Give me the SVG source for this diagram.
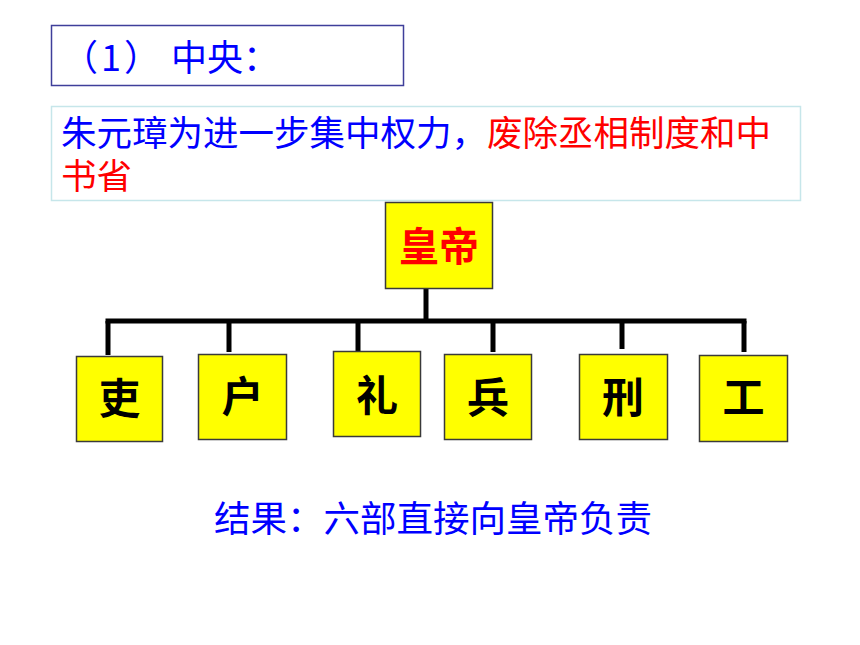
<svg xmlns="http://www.w3.org/2000/svg" width="860" height="645" viewBox="0 0 860 645">
<style>
.cjk{font-family:"Noto Sans CJK SC","Liberation Sans",sans-serif}
.blue{fill:#0000ff}
.red{fill:#ff0000}
.dept rect{fill:#ffff00;stroke:#3a3a3a;stroke-width:1.5}
.dept text{font-family:"Noto Sans CJK SC","Liberation Sans",sans-serif;font-weight:bold;font-size:42px;fill:#000;text-anchor:middle}
.conn path{fill:none;stroke:#000;stroke-width:5}
</style>
<rect width="860" height="645" fill="#fff"/>
<g id="title">
<rect x="51.5" y="25.5" width="352" height="60" fill="#fff" stroke="#3f3f9a" stroke-width="1.5"/>
<text class="cjk blue" x="62" y="71" font-size="36">（<tspan x="101">1</tspan><tspan x="124">）</tspan><tspan x="171">中央：</tspan></text>
</g>
<g id="intro">
<rect x="51.5" y="106.5" width="749" height="94" fill="#fff" stroke="#c6e6ea" stroke-width="1.5"/>
<text class="cjk" x="61" y="145.5" font-size="35.5"><tspan class="blue">朱元璋为进一步集中权力，</tspan><tspan class="red">废除丞相制度和中</tspan><tspan class="red" x="61" y="188.5">书省</tspan></text>
</g>
<g class="conn" id="connectors">
<path d="M426 288V321"/>
<path d="M105.5 321H746.5"/>
<path d="M108 321V355"/>
<path d="M229 321V352"/>
<path d="M358 321V351"/>
<path d="M493 321V352"/>
<path d="M622 321V349"/>
<path d="M744 321V352"/>
</g>
<g class="dept" id="emperor">
<rect x="385.5" y="202.5" width="107" height="86"/>
<text x="439" y="261" style="font-size:40px;fill:#ff0000">皇帝</text>
</g>
<g class="dept" id="li-bu">
<rect x="76.5" y="356.5" width="86" height="85"/>
<text x="119.5" y="414">吏</text>
</g>
<g class="dept" id="hu-bu">
<rect x="198.5" y="354.5" width="88" height="85"/>
<text x="242.5" y="412">户</text>
</g>
<g class="dept" id="li-bu-rites">
<rect x="333.5" y="351.5" width="87" height="85"/>
<text x="377" y="411">礼</text>
</g>
<g class="dept" id="bing-bu">
<rect x="444.5" y="354.5" width="87" height="85"/>
<text x="488" y="413">兵</text>
</g>
<g class="dept" id="xing-bu">
<rect x="579.5" y="354.5" width="88" height="85"/>
<text x="623" y="413">刑</text>
</g>
<g class="dept" id="gong-bu">
<rect x="699.5" y="355.5" width="88" height="86"/>
<text x="743.5" y="413">工</text>
</g>
<g id="result">
<text class="cjk blue" x="214" y="531.5" font-size="36.5">结果：六部直接向皇帝负责</text>
</g>
</svg>
